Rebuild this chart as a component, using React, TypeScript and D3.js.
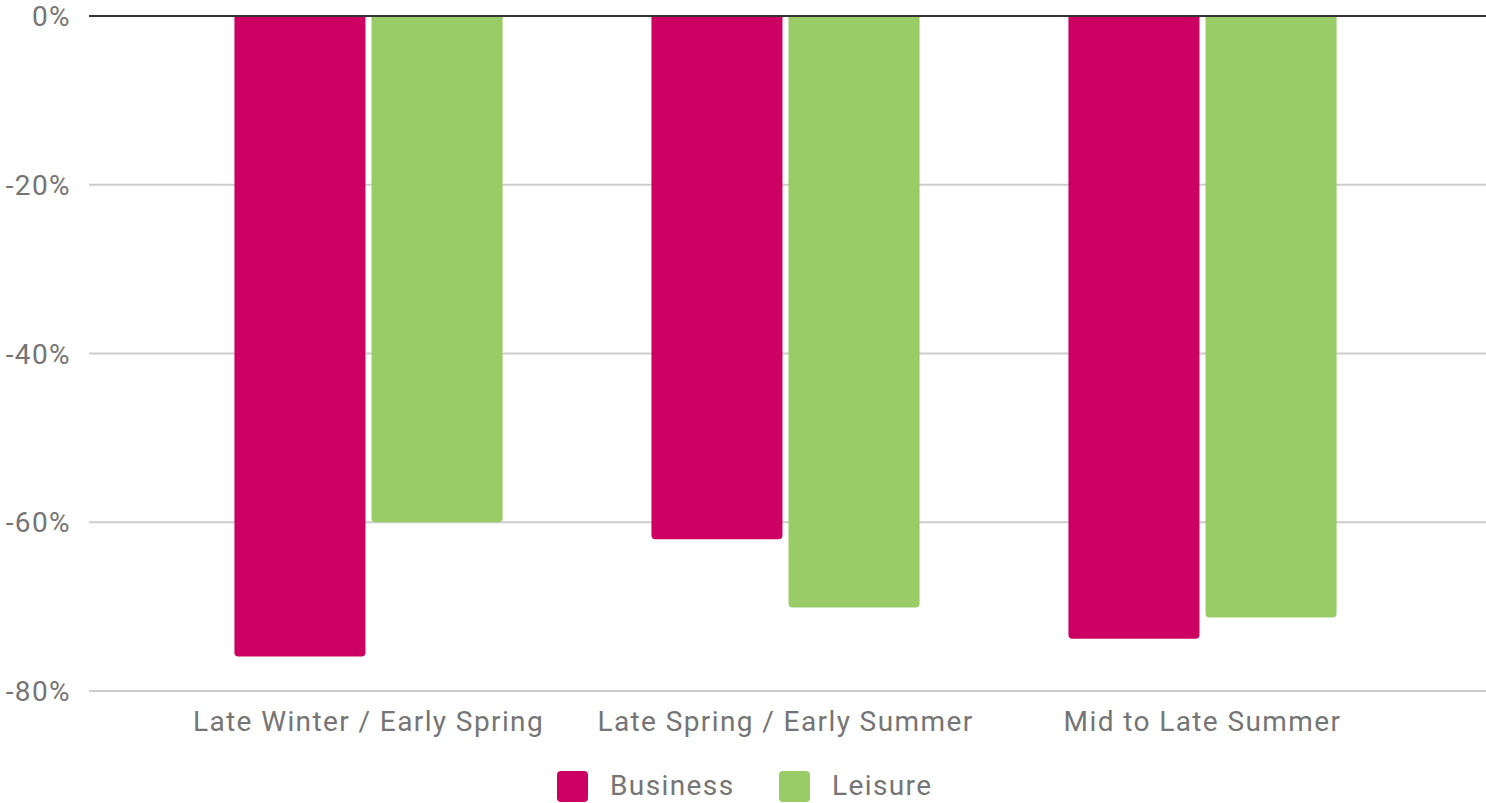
import React from "react";
import * as d3 from "d3";

const categories = ["Late Winter / Early Spring", "Late Spring / Early Summer", "Mid to Late Summer"];
const seriesNames = ["Business", "Leisure"];
const business = [-75.9, -62, -73.8];
const leisure = [-60, -70.1, -71.3];
const yTicks = [0, -20, -40, -60, -80];
const colors = ["#cc0063", "#99cc66"];

export default function App() {
  const W = 1486, H = 803;
  const y = d3.scaleLinear().domain([0, -80]).range([16, 691]);
  const x0 = d3.scaleBand<string>().domain(categories).range([160, 1411]).paddingInner(0.357).paddingOuter(0.1785);
  const x1 = d3.scaleBand<string>().domain(seriesNames).range([0, x0.bandwidth()]).paddingInner(0.044);
  const series = [business, leisure];
  const font = "Roboto, 'Noto Sans', sans-serif";
  const fs = 28;
  const ls = 1.4;
  const r = 4;
  const barPath = (xl: number, w: number, v: number) => {
    const top = y(0);
    const bot = y(v);
    return `M${xl},${top} L${xl + w},${top} L${xl + w},${bot - r} Q${xl + w},${bot} ${xl + w - r},${bot} L${xl + r},${bot} Q${xl},${bot} ${xl},${bot - r} Z`;
  };
  return (
    <svg width={W} height={H} style={{ position: "absolute", left: 0, top: 0, background: "#fff" }}>
      {yTicks.filter(t => t !== 0).map(t => (
        <line key={t} x1={89} x2={1486} y1={y(t)} y2={y(t)} stroke="#cccccc" strokeWidth={2} />
      ))}
      {yTicks.map(t => (
        <text key={"l" + t} x={71} y={y(t) + 10} textAnchor="end" fontFamily={font} fontSize={fs} letterSpacing={ls} fill="#757575">
          {(t === 0 ? "0" : "-" + Math.abs(t)) + "%"}
        </text>
      ))}
      {categories.map((c, i) => (
        <g key={c}>
          {series.map((s, j) => (
            <path key={j} d={barPath((x0(c) as number) + (x1(seriesNames[j]) as number), x1.bandwidth(), s[i])} fill={colors[j]} />
          ))}
          <text x={(x0(c) as number) + x0.bandwidth() / 2} y={731} textAnchor="middle" fontFamily={font} fontSize={fs} letterSpacing={ls} fill="#757575">
            {c}
          </text>
        </g>
      ))}
      <line x1={89} x2={1486} y1={y(0)} y2={y(0)} stroke="#333333" strokeWidth={2} />
      {seriesNames.map((n, j) => {
        const lx = [557, 779][j];
        return (
          <g key={n}>
            <rect x={lx} y={771} width={31} height={31} rx={4} fill={colors[j]} />
            <text x={lx + 53} y={795} fontFamily={font} fontSize={fs} letterSpacing={ls} fill="#757575">{n}</text>
          </g>
        );
      })}
    </svg>
  );
}
